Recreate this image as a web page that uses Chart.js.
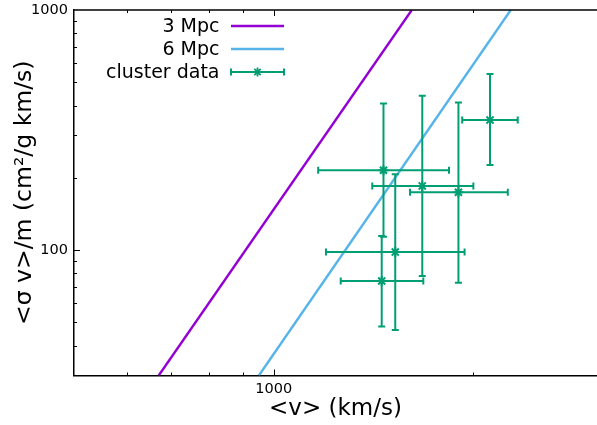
<!DOCTYPE html>
<html><head><meta charset="utf-8">
<script src="https://cdn.jsdelivr.net/npm/chart.js@4/dist/chart.umd.min.js"></script>
<style>html,body{margin:0;padding:0;background:#fff;overflow:hidden}</style>
</head><body>
<canvas id="c" width="597" height="425"></canvas>
<script>
// ---- data ----
const seriesNames = ['3 Mpc', '6 Mpc', 'cluster data'];
const line3V = [671, 1615];
const line3S = [30, 1000];
const line6V = [950, 2277];
const line6S = [30, 1000];
const clusterV     = [1464, 1675, 1899, 2119, 1525, 1455];
const clusterVLow  = [1167, 1408, 1605, 1924, 1199, 1262];
const clusterVHigh = [1838, 2000, 2254, 2333, 1940, 1681];
const clusterS     = [215, 185, 174, 348, 98, 74.3];
const clusterSLow  = [113.6, 78, 73, 226, 46.4, 48];
const clusterSHigh = [408, 439, 412, 541, 207, 114.4];
const xTickValues = [600, 700, 800, 900, 1000, 2000];
const xLabelTicks = [1000];
const yTickValues = [40, 50, 60, 70, 80, 90, 100, 200, 300, 400, 500, 600, 700, 800, 900];
const yLabelTicks = [100, 1000];
const xRange = [500, 3072];
const yRange = [30, 1000];

const colors = ['#9400d3', '#56b4e9', '#009e73'];
const FONT = '"DejaVu Sans", sans-serif';

const toPts = (xs, ys) => xs.map((x, i) => ({x: x, y: ys[i]}));

const noPad = () => ({left: 0, top: 0, right: 0, bottom: 0});
const zeroPad = s => {
  s.paddingTop = 0; s.paddingBottom = 0; s.paddingLeft = 0; s.paddingRight = 0;
  s.getPadding = noPad;
};

const frameTicks = {
  id: 'frameTicks',
  afterDraw(chart) {
    const {ctx, chartArea: a, scales: {x, y}} = chart;
    ctx.save();
    ctx.strokeStyle = '#000';
    ctx.lineWidth = 1.5;
    ctx.beginPath(); ctx.moveTo(a.left, a.top); ctx.lineTo(a.right, a.top); ctx.stroke();
    ctx.lineWidth = 1;
    xTickValues.forEach(v => {
      const len = xLabelTicks.includes(v) ? 6 : 3;
      const px = Math.round(x.getPixelForValue(v)) + 0.5;
      ctx.beginPath(); ctx.moveTo(px, a.bottom); ctx.lineTo(px, a.bottom - len); ctx.stroke();
      ctx.beginPath(); ctx.moveTo(px, a.top); ctx.lineTo(px, a.top + len); ctx.stroke();
    });
    yTickValues.forEach(v => {
      const len = yLabelTicks.includes(v) ? 6 : 3;
      const py = Math.round(y.getPixelForValue(v)) + 0.5;
      ctx.beginPath(); ctx.moveTo(a.left, py); ctx.lineTo(a.left + len, py); ctx.stroke();
    });
    ctx.restore();
  }
};

const errorBars = {
  id: 'errorBars',
  afterDatasetsDraw(chart) {
    const {ctx, chartArea: a, scales: {x, y}} = chart;
    ctx.save();
    ctx.beginPath(); ctx.rect(a.left, a.top, a.right - a.left, a.bottom - a.top); ctx.clip();
    ctx.strokeStyle = colors[2];
    ctx.lineWidth = 2;
    const cap = 3.5;
    clusterV.forEach((v, i) => {
      const px = x.getPixelForValue(v), py = y.getPixelForValue(clusterS[i]);
      const xl = x.getPixelForValue(clusterVLow[i]), xh = x.getPixelForValue(clusterVHigh[i]);
      const yl = y.getPixelForValue(clusterSLow[i]), yh = y.getPixelForValue(clusterSHigh[i]);
      ctx.beginPath();
      ctx.moveTo(xl, py); ctx.lineTo(xh, py);
      ctx.moveTo(xl, py - cap); ctx.lineTo(xl, py + cap);
      ctx.moveTo(xh, py - cap); ctx.lineTo(xh, py + cap);
      ctx.moveTo(px, yl); ctx.lineTo(px, yh);
      ctx.moveTo(px - cap, yl); ctx.lineTo(px + cap, yl);
      ctx.moveTo(px - cap, yh); ctx.lineTo(px + cap, yh);
      ctx.stroke();
    });
    ctx.restore();
  }
};

const keyBox = {
  id: 'keyBox',
  afterDraw(chart) {
    const {ctx} = chart;
    const rows = [26, 49, 72];
    const textRight = 219.5, s0 = 231, s1 = 284;
    ctx.save();
    ctx.font = '19px ' + FONT;
    ctx.fillStyle = '#000';
    ctx.textAlign = 'right';
    ctx.textBaseline = 'middle';
    chart.data.datasets.forEach((ds, i) => {
      const yy = rows[i];
      ctx.fillText(ds.label, textRight, yy + 1);
      ctx.strokeStyle = ds.borderColor;
      if (i < 2) {
        ctx.lineWidth = 2.4;
        ctx.beginPath(); ctx.moveTo(s0, yy); ctx.lineTo(s1, yy); ctx.stroke();
      } else {
        ctx.lineWidth = 2;
        ctx.beginPath();
        ctx.moveTo(s0, yy); ctx.lineTo(s1, yy);
        ctx.moveTo(s0, yy - 3.5); ctx.lineTo(s0, yy + 3.5);
        ctx.moveTo(s1, yy - 3.5); ctx.lineTo(s1, yy + 3.5);
        ctx.stroke();
        const mid = (s0 + s1) / 2, r = 4.5;
        ctx.lineWidth = 1.8;
        ctx.beginPath();
        ctx.moveTo(mid - r, yy); ctx.lineTo(mid + r, yy);
        ctx.moveTo(mid, yy - r); ctx.lineTo(mid, yy + r);
        ctx.moveTo(mid - r * 0.7, yy - r * 0.7); ctx.lineTo(mid + r * 0.7, yy + r * 0.7);
        ctx.moveTo(mid - r * 0.7, yy + r * 0.7); ctx.lineTo(mid + r * 0.7, yy - r * 0.7);
        ctx.stroke();
      }
    });
    ctx.restore();
  }
};

new Chart(document.getElementById('c'), {
  type: 'scatter',
  data: {
    datasets: [
      {label: seriesNames[0], data: toPts(line3V, line3S), showLine: true, borderColor: colors[0], backgroundColor: colors[0], borderWidth: 2.4, pointRadius: 0, order: 2},
      {label: seriesNames[1], data: toPts(line6V, line6S), showLine: true, borderColor: colors[1], backgroundColor: colors[1], borderWidth: 2.4, pointRadius: 0, order: 1},
      {label: seriesNames[2], data: toPts(clusterV, clusterS), showLine: false, borderColor: colors[2], backgroundColor: colors[2], pointStyle: 'star', pointRadius: 5, borderWidth: 2, order: 0}
    ]
  },
  options: {
    responsive: false,
    animation: false,
    events: [],
    layout: {autoPadding: false, padding: {top: 10, right: 0, left: 0, bottom: 0}},
    plugins: {legend: {display: false}, tooltip: {enabled: false}},
    scales: {
      x: {
        type: 'logarithmic', min: xRange[0], max: xRange[1],
        afterBuildTicks: s => { s.ticks = xLabelTicks.map(v => ({value: v})); },
        afterFit: s => { s.height = 49.5; zeroPad(s); },
        grid: {display: false, drawTicks: false},
        border: {display: true, color: '#000', width: 1.5},
        ticks: {autoSkip: false, maxRotation: 0, padding: 5, color: '#000', font: {family: FONT, size: 14.5}, callback: v => String(v)},
        title: {display: true, text: '<v> (km/s)', color: '#000', font: {family: FONT, size: 23}, padding: {top: 0, bottom: 2}}
      },
      y: {
        type: 'logarithmic', min: yRange[0], max: yRange[1],
        afterBuildTicks: s => { s.ticks = yLabelTicks.map(v => ({value: v})); },
        afterFit: s => { s.width = 74; zeroPad(s); },
        grid: {display: false, drawTicks: false},
        border: {display: true, color: '#000', width: 1.5},
        ticks: {autoSkip: false, padding: 6, color: '#000', font: {family: FONT, size: 14.5}, callback: v => String(v)},
        title: {display: true, text: '<σ v>/m (cm²/g km/s)', color: '#000', font: {family: FONT, size: 23.5}, padding: {top: 11, bottom: 0}}
      }
    }
  },
  plugins: [errorBars, frameTicks, keyBox]
});
</script>
</body></html>
